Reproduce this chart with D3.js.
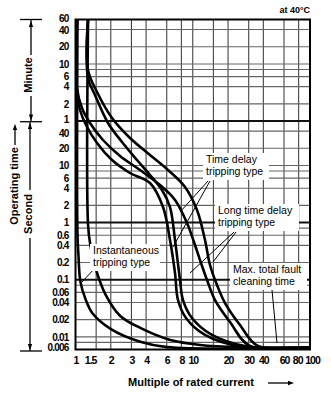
<!DOCTYPE html>
<html><head><meta charset="utf-8">
<script src="https://cdn.jsdelivr.net/npm/d3@7"></script>
<style>html,body{margin:0;padding:0;background:#fff;} svg{display:block;font-family:"Liberation Sans",Arial,sans-serif;}</style>
</head><body><svg id="c" width="331" height="398"></svg>
<script>
// ---- data ----
const xTickValues = [1,1.5,2,3,4,6,8,10,20,30,40,60,80,100];
const xGridValues = [1.5,2,3,4,6,8,10,15,20,30,40,60,80];
const minuteTickLabels = [60,40,20,10,6,4,2,1];
const secondTickLabels = [40,20,10,6,4,2,1,0.6,0.4,0.2,0.1,0.06,0.04,0.02,0.01,0.006];
const yGridSeconds = [2400,1200,600,480,360,240,120,40,20,10,8,6,4,2,0.8,0.6,0.4,0.2,0.08,0.06,0.04,0.02,0.01,0.008];
const yMajorSeconds = [60,1,0.1];
// curves: [multiple of rated current, operating time in seconds]
const instantMin = [[1.04,3600],[1.04,0.6],[1.06,0.267],[1.10,0.0935],[1.22,0.0451],[1.40,0.0256],[1.99,0.0138],[3.57,0.0082],[6.06,0.0066],[100,0.0065]];
const instantMax = [[1.28,3600],[1.28,0.9],[1.34,0.40],[1.48,0.161],[1.80,0.0556],[2.41,0.0232],[3.57,0.0143],[6.43,0.0088],[11.6,0.0072],[25.3,0.0066],[100,0.0065]];
const delayMin = [[1.03,3600],[1.03,171.5],[1.092,93.7],[1.229,51.2],[1.526,24.77],[2.048,12.48],[2.916,7.39],[4.319,4.94],[5.576,1.875],[6.397,0.496],[7.058,0.131],[7.485,0.0441],[8.76,0.0214],[12.72,0.0108],[25.3,0.0068],[100,0.0065]];
const delayMax = [[1.278,3600],[1.278,340.6],[1.466,171.5],[1.893,55.5],[2.493,25.79],[3.345,12.48],[4.319,6.82],[5.467,3.72],[6.397,1.875],[7.058,0.496],[7.786,0.0989],[8.258,0.0441],[9.85,0.0214],[14.59,0.0108],[27.9,0.0069],[100,0.0065]];
const longMin = [[1.03,3600],[1.03,227],[1.136,101.5],[1.329,55.5],[1.716,27.95],[2.397,14.66],[3.549,8.34],[5.256,4.55],[7.058,2.487],[8.933,0.984],[10.45,0.405],[11.53,0.221],[13.23,0.0989],[15.48,0.0441],[20.78,0.0182],[30.78,0.0069],[100,0.0065]];
const longMax = [[1.278,3600],[1.278,470],[1.526,193.6],[2.048,67.8],[2.916,30.28],[4.319,15.26],[6.15,8.34],[8.589,4.2],[10.87,1.662],[12.72,0.496],[14.03,0.181],[16.1,0.0808],[18.84,0.0391],[25.29,0.0161],[36.02,0.0069],[100,0.0065]];
const curves = [instantMin, instantMax, delayMin, delayMax, longMin, longMax];

// ---- layout ----
const L = 75.5, R = 310, T = 19.5, B = 349.5;
const svg = d3.select("#c");
const x = d3.scaleLog().domain([1,100]).range([L,R]);
const y = d3.scaleLog().domain([3600,0.006]).range([T,B]);

// grid
const g = svg.append("g");
g.selectAll(".vg").data(xGridValues).join("line")
  .attr("x1",d=>x(d)).attr("x2",d=>x(d)).attr("y1",T).attr("y2",B)
  .attr("stroke","#444").attr("stroke-width",1.1);
g.selectAll(".hg").data(yGridSeconds).join("line")
  .attr("y1",d=>y(d)).attr("y2",d=>y(d)).attr("x1",L).attr("x2",R)
  .attr("stroke","#666").attr("stroke-width",1.1);
g.selectAll(".hm").data(yMajorSeconds).join("line")
  .attr("y1",d=>y(d)).attr("y2",d=>y(d)).attr("x1",L).attr("x2",R)
  .attr("stroke","#111").attr("stroke-width",2);

// clip
svg.append("clipPath").attr("id","pc").append("rect").attr("x",L).attr("y",T).attr("width",R-L).attr("height",B-T);

// curves
const line = d3.line().x(d=>x(d[0])).y(d=>y(d[1])).curve(d3.curveCatmullRom.alpha(0.5));
svg.append("g").attr("clip-path","url(#pc)").selectAll("path").data(curves).join("path")
  .attr("d",line).attr("fill","none").attr("stroke","#000").attr("stroke-width",2.6);

// border
svg.append("rect").attr("x",L).attr("y",T).attr("width",R-L).attr("height",B-T)
  .attr("fill","none").attr("stroke","#000").attr("stroke-width",2);

// axes
const fontCss = "font-family:'Liberation Sans',Arial,sans-serif;font-weight:bold;fill:#000";
const xa = svg.append("g").attr("transform",`translate(0,${B+4})`)
  .call(d3.axisBottom(x).tickValues(xTickValues).tickSize(0).tickFormat(d=>String(d)));
xa.select(".domain").remove();
xa.selectAll("text").attr("style",fontCss+";font-size:10.5px;letter-spacing:-1px");
xa.selectAll(".tick").filter(d=>d===1.5).select("text").attr("dx","-6");
xa.selectAll(".tick").filter(d=>d===80).select("text").attr("dx","-1.5");
xa.selectAll(".tick").filter(d=>d===100).select("text").attr("dx","2");

const ya1 = svg.append("g").attr("transform",`translate(${L-4},0)`)
  .call(d3.axisLeft(y).tickValues(minuteTickLabels.map(m=>m*60)).tickSize(0).tickFormat(d=>String(d/60)));
const ya2 = svg.append("g").attr("transform",`translate(${L-4},0)`)
  .call(d3.axisLeft(y).tickValues(secondTickLabels).tickSize(0).tickFormat(d=>String(d)));
[ya1,ya2].forEach(a=>{a.select(".domain").remove(); a.selectAll("text").attr("style",fontCss+";font-size:10px;letter-spacing:-0.8px");});
ya1.selectAll(".tick").filter(d=>d===3600).select("text").attr("dy","0.2em");
ya1.selectAll(".tick").filter(d=>d===2400).select("text").attr("dy","0.42em");
ya1.selectAll(".tick").filter(d=>d===60).select("text").attr("dy","0.15em");
ya2.selectAll(".tick").filter(d=>d===40).select("text").attr("dy","0.5em");
ya2.selectAll(".tick").filter(d=>d===0.006).select("text").attr("dy","0.1em");

// titles
const txt = (xx,yy,s,opts={})=>svg.append("text").attr("x",xx).attr("y",yy).text(s)
  .attr("style",fontCss+";font-size:"+(opts.size||11)+"px;font-weight:"+(opts.weight||"bold"))
  .attr("text-anchor",opts.anchor||"start").attr("dominant-baseline","middle")
  .attr("transform",opts.rot?`rotate(-90,${xx},${yy})`:null);
txt(191,383,"Multiple of rated current",{anchor:"middle"});
txt(310,11,"at 40°C",{anchor:"end",size:9});
txt(29.5,75,"Minute",{anchor:"middle",rot:true});
txt(29.5,214,"Second",{anchor:"middle",rot:true});
txt(15,186,"Operating time",{anchor:"middle",rot:true});

// brackets / arrows
const ink = svg.append("g").attr("stroke","#000").attr("stroke-width",1.3).attr("fill","none");
const seg=(a,b,c,d)=>ink.append("line").attr("x1",a).attr("y1",b).attr("x2",c).attr("y2",d);
const head=(xx,yy,dir)=>svg.append("path").attr("fill","#000")
  .attr("d",dir==="up"?`M${xx},${yy} l-2.2,6 l4.4,0 z`:dir==="down"?`M${xx},${yy} l-2.2,-6 l4.4,0 z`:`M${xx},${yy} l-6,-2.2 l0,4.4 z`);
[19.5,121.7,351].forEach(v=>seg(20,v,42,v));
seg(31,20,31,55); head(31,21,"up");
seg(31,96,31,121); head(31,120.5,"down");
seg(30,122,30,190); head(30,123,"up");
seg(30,238,30,351); head(30,350,"down");
seg(15,126,15,145); head(15,124,"up");
seg(268,383,290,383); head(294,383,"right");

// annotations
const ann = svg.append("g");
function label(x0,y0,lines,w){
  ann.append("rect").attr("x",x0-3).attr("y",y0-7).attr("width",w).attr("height",lines.length*12.5+2).attr("fill","#fff");
  lines.forEach((s,i)=>ann.append("text").attr("x",x0).attr("y",y0+i*12.5).text(s)
    .attr("dominant-baseline","middle").attr("style","font-family:'Liberation Sans',Arial,sans-serif;font-size:10.5px;fill:#000"));
}
const lead=(a,b,c,d)=>ann.append("line").attr("x1",a).attr("y1",b).attr("x2",c).attr("y2",d).attr("stroke","#000").attr("stroke-width",1);
lead(210,181,173,247); lead(208,181,180,212);
lead(234,232,190,273); lead(236,232,213,262);
lead(272,290,277,343);
lead(95,268,82,282);
label(206,160,["Time delay","tripping type"],66);
label(218,211,["Long time delay","tripping type"],84);
label(233,270,["Max. total fault","cleaning time"],77);
label(93,251,["Instantaneous","tripping type"],70);
</script></body></html>
